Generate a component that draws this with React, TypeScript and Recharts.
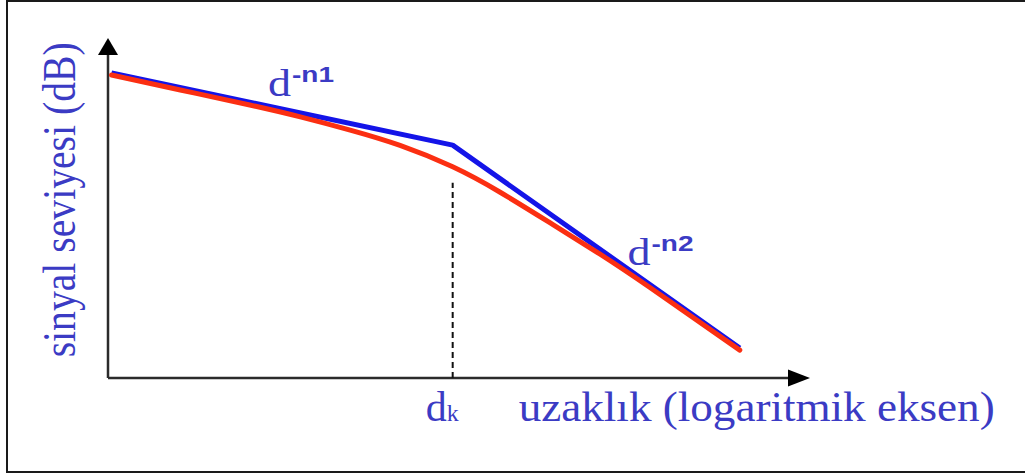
import React from 'react';
import { ComposedChart, Line, XAxis, YAxis, ReferenceLine, ReferenceDot } from 'recharts';

// distance on a log axis (0..100) and signal level in dB (0..100), arbitrary units
const twoSlopeX = [0.5, 49.1, 90];
const twoSlopeY = [89.7, 68.5, 8.8];

const measuredX = [0.5, 10.3, 20.2, 27.4, 34.5, 41.6, 49.1, 55.8, 63.0, 70.1, 77.2, 90.0];
const measuredY = [89.1, 84.7, 80.3, 76.8, 72.9, 68.4, 62.1, 54.7, 45.6, 36.4, 26.6, 8.2];

// breakpoint distance d_k and where its guide line stops
const breakX = 49.1;
const breakGuideTop = 57.4;

const yTitle = 'sinyal seviyesi (dB)';
const xTitle = 'uzaklık (logaritmik eksen)';
const slope1 = '-n1';
const slope2 = '-n2';

const toPoints = (xs: number[], ys: number[]) => xs.map((x, i) => ({ x, y: ys[i] }));
const twoSlope = toPoints(twoSlopeX, twoSlopeY);
const measured = toPoints(measuredX, measuredY);

const AXIS = '#2b2b2b';
const TEXT = '#3b3bc4';
const SERIF = '"Liberation Serif", "DejaVu Serif", serif';
const SANS = '"Liberation Sans", Arial, sans-serif';

const upArrow = ({ cx, cy }: any) => (
  <polygon points={`${cx},${cy} ${cx - 10},${cy + 17} ${cx + 10},${cy + 17}`} fill="#000" />
);
const rightArrow = ({ cx, cy }: any) => (
  <polygon points={`${cx},${cy} ${cx - 22},${cy - 8.5} ${cx - 22},${cy + 8.5}`} fill="#000" />
);

const yTitleShape = ({ cx, cy }: any) => (
  <text
    x={cx - 48}
    y={cy}
    transform={`rotate(-90 ${cx - 48} ${cy})`}
    textAnchor="middle"
    dominantBaseline="central"
    fontFamily={SERIF}
    fontSize={46}
    textLength={315}
    lengthAdjust="spacingAndGlyphs"
    fill={TEXT}
  >
    {yTitle}
  </text>
);

const xTitleShape = ({ cx, cy }: any) => (
  <g>
    <text x={cx - 27} y={cy + 43} fontFamily={SERIF} fontSize={42} fill={TEXT}>
      d<tspan fontSize={24}>k</tspan>
    </text>
    <text
      x={cx + 66}
      y={cy + 43}
      fontFamily={SERIF}
      fontSize={42}
      textLength={476}
      lengthAdjust="spacingAndGlyphs"
      fill={TEXT}
    >
      {xTitle}
    </text>
  </g>
);

const slopeLabel = (sup: string, dx: number, dy: number) => ({ cx, cy }: any) => (
  <g>
    <text x={cx + dx} y={cy + dy} fontFamily={SERIF} fontSize={38} textLength={23} lengthAdjust="spacingAndGlyphs" fill={TEXT}>
      d
    </text>
    <text
      x={cx + dx + 24}
      y={cy + dy - 14}
      fontFamily={SANS}
      fontWeight="bold"
      fontSize={22}
      textLength={42}
      lengthAdjust="spacingAndGlyphs"
      fill={TEXT}
    >
      {sup}
    </text>
  </g>
);

export default function App() {
  return (
    <div style={{ position: 'absolute', left: 0, top: 0, width: 1025, height: 473, background: '#fff', overflow: 'hidden' }}>
      <div
        style={{
          position: 'absolute',
          left: 6,
          top: 0,
          width: 1019,
          height: 469,
          borderLeft: '2px solid #1a1a1a',
          borderTop: '2px solid #1a1a1a',
          borderBottom: '2px solid #1a1a1a',
        }}
      />
      <ComposedChart
        width={1025}
        height={473}
        margin={{ top: 38, right: 215, bottom: 95, left: 108 }}
        style={{ position: 'absolute', left: 0, top: 0 }}
      >
        <XAxis type="number" dataKey="x" domain={[0, 100]} hide allowDataOverflow />
        <YAxis type="number" dataKey="y" domain={[0, 100]} hide allowDataOverflow />

        <ReferenceLine segment={[{ x: 0, y: 0 }, { x: 97, y: 0 }]} stroke={AXIS} strokeWidth={2.5} ifOverflow="visible" />
        <ReferenceLine segment={[{ x: 0, y: 0 }, { x: 0, y: 95 }]} stroke={AXIS} strokeWidth={2.5} ifOverflow="visible" />
        <ReferenceDot x={0} y={100} r={0} shape={upArrow} ifOverflow="visible" />
        <ReferenceDot x={100} y={0} r={0} shape={rightArrow} ifOverflow="visible" />

        <ReferenceLine
          segment={[{ x: breakX, y: 0 }, { x: breakX, y: breakGuideTop }]}
          stroke="#111"
          strokeWidth={2}
          strokeDasharray="6 4"
          ifOverflow="visible"
        />

        <Line
          data={twoSlope}
          dataKey="y"
          type="linear"
          stroke="#1414e8"
          strokeWidth={5}
          strokeLinejoin="round"
          dot={false}
          activeDot={false}
          isAnimationActive={false}
        />
        <Line
          data={measured}
          dataKey="y"
          type="natural"
          stroke="#fb2f12"
          strokeWidth={5}
          strokeLinecap="round"
          dot={false}
          activeDot={false}
          isAnimationActive={false}
        />

        <ReferenceDot x={0} y={52.4} r={0} shape={yTitleShape} ifOverflow="visible" />
        <ReferenceDot x={breakX} y={0} r={0} shape={xTitleShape} ifOverflow="visible" />
        <ReferenceDot x={22.8} y={82} r={0} shape={slopeLabel(slope1, 0, -3)} ifOverflow="visible" />
        <ReferenceDot x={74} y={34} r={0} shape={slopeLabel(slope2, 0, 3)} ifOverflow="visible" />
      </ComposedChart>
    </div>
  );
}
